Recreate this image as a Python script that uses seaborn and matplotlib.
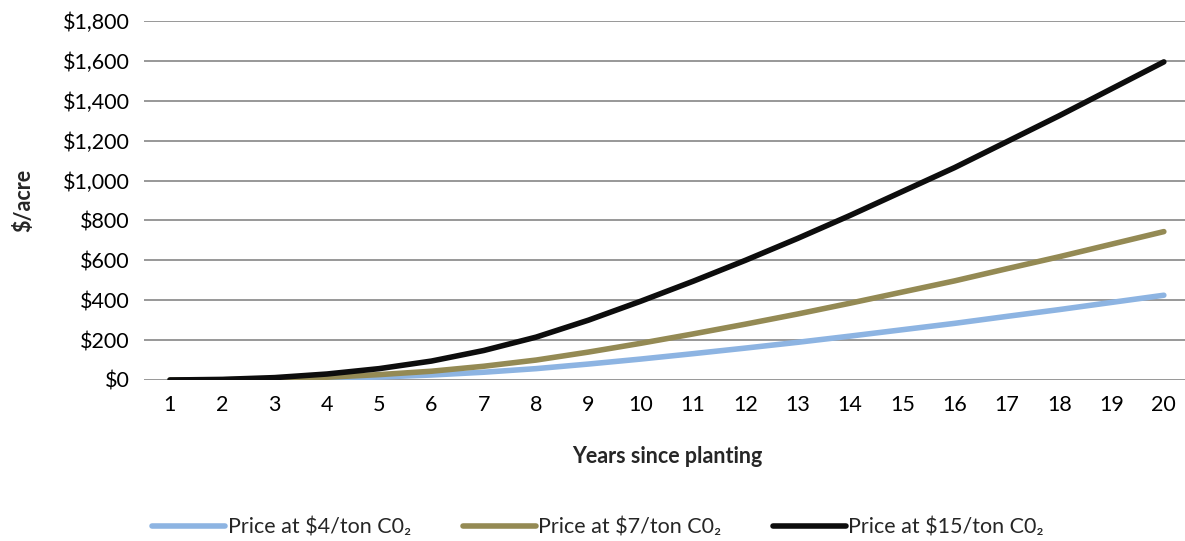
import pandas as pd
import matplotlib
matplotlib.use('Agg')
import matplotlib.pyplot as plt
import seaborn as sns
from matplotlib.ticker import FuncFormatter

# dados
anos = list(range(1, 21))
preco_4 = [0, 1, 3, 8, 15, 25, 39, 57, 80, 105, 132, 160, 189, 220, 252, 284, 319, 353, 389, 425]
preco_7 = [0, 1, 6, 14, 27, 44, 69, 100, 140, 184, 231, 280, 331, 385, 441, 497, 558, 618, 681, 744]
preco_15 = [0, 3, 12, 30, 57, 95, 148, 215, 300, 395, 495, 600, 710, 825, 945, 1065, 1195, 1325, 1460, 1595]
series = ['Price at $4/ton C0\u2082', 'Price at $7/ton C0\u2082', 'Price at $15/ton C0\u2082']
cores = ['#8DB4E2', '#948A54', '#0D0D0D']

df = pd.DataFrame({
    'ano': anos * 3,
    'valor': preco_4 + preco_7 + preco_15,
    'serie': [series[0]] * 20 + [series[1]] * 20 + [series[2]] * 20,
})

sns.set_style('white')
plt.rcParams['font.family'] = ['Lato', 'DejaVu Sans']

fig = plt.figure(figsize=(11.85, 5.41), dpi=100)
ax = fig.add_axes([143.8 / 1185, 1 - 380 / 541, (1190 - 143.8) / 1185, (380 - 21) / 541])

sns.lineplot(data=df, x='ano', y='valor', hue='serie', palette=cores,
             linewidth=4, ax=ax, legend=False, solid_capstyle='round')

ax.set_xlim(0.5, 20.5)
ax.set_ylim(0, 1800)
ax.set_yticks(range(0, 1801, 200))
ax.yaxis.set_major_formatter(FuncFormatter(lambda v, p: f'${v:,.0f}'))
ax.set_xticks(anos)
ax.grid(axis='y', color='#868686', linewidth=1.2)
ax.set_axisbelow(True)
for s in ax.spines.values():
    s.set_visible(False)
ax.tick_params(axis='both', length=0, labelsize=15.5, colors='black')
ax.tick_params(axis='y', pad=10)
ax.tick_params(axis='x', pad=11)

ax.set_xlabel('Years since planting', fontsize=15.5, fontweight='bold', labelpad=22)
ax.set_ylabel('$/acre', fontsize=15.5, fontweight='bold')
ax.yaxis.set_label_coords(-110 / (1190 - 143.8), 0.5)

handles = [plt.Line2D([], [], color=c, linewidth=4) for c in cores]
fig.legend(handles, series, loc='center', bbox_to_anchor=(598 / 1185, 1 - 528 / 541),
           ncol=3, frameon=False, fontsize=15.5, handlelength=3.4, handletextpad=0.1,
           columnspacing=2.4)

plt.savefig('out.png', dpi=100)
